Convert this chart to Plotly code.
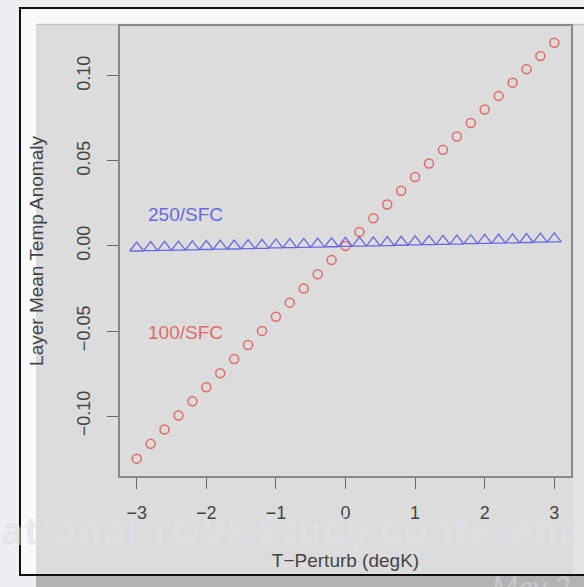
import plotly.graph_objects as go

# ---------------- data ----------------
x_perturb = [-3.0, -2.8, -2.6, -2.4, -2.2, -2.0, -1.8, -1.6, -1.4, -1.2, -1.0,
             -0.8, -0.6, -0.4, -0.2, 0.0, 0.2, 0.4, 0.6, 0.8, 1.0,
             1.2, 1.4, 1.6, 1.8, 2.0, 2.2, 2.4, 2.6, 2.8, 3.0]

anom_100_sfc = [-0.1250, -0.1163, -0.1079, -0.0996, -0.0913, -0.0830, -0.0748,
                -0.0665, -0.0582, -0.0499, -0.0416, -0.0333, -0.0250, -0.0166,
                -0.0083, 0.0000, 0.0082, 0.0163, 0.0244, 0.0325, 0.0405,
                0.0485, 0.0565, 0.0644, 0.0723, 0.0802, 0.0881, 0.0960,
                0.1039, 0.1117, 0.1195]

anom_250_sfc = [-0.0012, -0.0010, -0.0008, -0.0007, -0.0005, -0.0003, -0.0001,
                0.0000, 0.0002, 0.0004, 0.0006, 0.0008, 0.0009, 0.0011, 0.0013,
                0.0015, 0.0017, 0.0018, 0.0020, 0.0022, 0.0024, 0.0026, 0.0027,
                0.0029, 0.0031, 0.0033, 0.0035, 0.0036, 0.0038, 0.0040, 0.0042]

x_ticks = [-3, -2, -1, 0, 1, 2, 3]
x_ticktext = ["\u22123", "\u22122", "\u22121", "0", "1", "2", "3"]
y_ticks = [-0.10, -0.05, 0.0, 0.05, 0.10]
y_ticktext = ["\u22120.10", "\u22120.05", "0.00", "0.05", "0.10"]

series_labels = ["100/SFC", "250/SFC"]

# ---------------- layout geometry (pixels) ----------------
W, H = 584, 587
L, R, T, B = 120, 571, 26, 476          # plot box edges in pixels


def px(xp):
    return (xp - L) / (R - L)


def py(yp):
    return (B - yp) / (B - T)


RED = "#e26a6a"
BLUE = "#6868e4"
TXT = "#444444"
FONT = "Liberation Sans, Arial, sans-serif"

fig = go.Figure()

fig.add_trace(go.Scatter(
    x=x_perturb, y=anom_100_sfc, mode="markers", name=series_labels[0],
    marker=dict(symbol="circle-open", size=9, color=RED, line=dict(width=1.5)),
))
fig.add_trace(go.Scatter(
    x=x_perturb, y=anom_250_sfc, mode="markers", name=series_labels[1],
    marker=dict(symbol="triangle-up-open", size=12, color=BLUE, line=dict(width=1.3)),
))

shapes = []


def rect(x0, y0, x1, y1, fill, line_color=None, lw=0):
    shapes.append(dict(
        type="rect", xref="paper", yref="paper", layer="below",
        x0=px(x0), x1=px(x1), y0=py(y1), y1=py(y0),
        fillcolor=fill,
        line=dict(color=line_color or fill, width=lw),
    ))


# slide white frame inside black border
rect(20, 8, 640, 575, "#f8f9fa")
# gray panel
rect(36, 24, 640, 575, "#dcdcdc")
# lighter strip right of plot box
rect(573, 26, 640, 575, "#e3e3e3")
# panel top edge
shapes.append(dict(type="line", xref="paper", yref="paper", layer="below",
                   x0=px(36), x1=px(640), y0=py(24.5), y1=py(24.5),
                   line=dict(color="#c4c4c4", width=1.5)))
# dark band below border
rect(36, 575, 640, 640, "#b3b3b3")
# black border
shapes.append(dict(type="rect", xref="paper", yref="paper", layer="above",
                   x0=px(20), x1=px(640), y0=py(575), y1=py(8),
                   fillcolor="rgba(0,0,0,0)", line=dict(color="#111111", width=2)))

annotations = [
    # watermark
    dict(text="<b>ational TOVS Study Conferenc</b>", xref="paper", yref="paper",
         x=px(-2), y=py(529), xanchor="left", yanchor="middle", showarrow=False,
         font=dict(family="Open Sans, sans-serif", size=39,
                   color="rgba(222,224,231,0.6)")),
    dict(text="May 2", xref="paper", yref="paper",
         x=px(490), y=py(586), xanchor="left", yanchor="middle", showarrow=False,
         font=dict(family="Lato, sans-serif", size=30, style="italic",
                   color="rgba(205,206,212,0.75)")),
    # series labels
    dict(text=series_labels[1], xref="paper", yref="paper",
         x=px(185), y=py(214), xanchor="center", yanchor="middle", showarrow=False,
         font=dict(family=FONT, size=19, color=BLUE)),
    dict(text=series_labels[0], xref="paper", yref="paper",
         x=px(185), y=py(332), xanchor="center", yanchor="middle", showarrow=False,
         font=dict(family=FONT, size=19, color=RED)),
]

fig.update_layout(
    width=W, height=H, autosize=False,
    margin=dict(l=L, r=W - R, t=T, b=H - B, pad=0),
    paper_bgcolor="#eceef2",
    plot_bgcolor="#dcdcdc",
    showlegend=False,
    shapes=shapes,
    annotations=annotations,
    font=dict(family=FONT, color=TXT),
)

fig.update_xaxes(
    range=[-3.24, 3.24], tickvals=x_ticks, ticktext=x_ticktext,
    ticks="outside", ticklen=11, tickwidth=1, tickcolor="#666666",
    showline=True, mirror=True, linecolor="#888888", linewidth=1.5,
    showgrid=False, zeroline=False,
    tickfont=dict(size=18, color=TXT, family=FONT),
    ticklabelstandoff=9,
    title=dict(text="T\u2212Perturb (degK)", font=dict(size=19, color=TXT, family=FONT),
               standoff=31),
    automargin=False,
)
fig.update_yaxes(
    range=[-0.1352, 0.1293], tickvals=y_ticks, ticktext=y_ticktext,
    ticks="outside", ticklen=11, tickwidth=1, tickcolor="#666666",
    showline=True, mirror=True, linecolor="#888888", linewidth=1.5,
    showgrid=False, zeroline=False, tickangle=-90,
    tickfont=dict(size=18, color=TXT, family=FONT),
    ticklabelstandoff=10,
    title=dict(text="Layer Mean Temp Anomaly", font=dict(size=19, color=TXT, family=FONT),
               standoff=25),
    automargin=False,
)

fig.write_html(
    "out.html",
    config={"displayModeBar": False},
    post_script="document.body.style.margin='0';document.body.style.overflow='hidden';",
)
